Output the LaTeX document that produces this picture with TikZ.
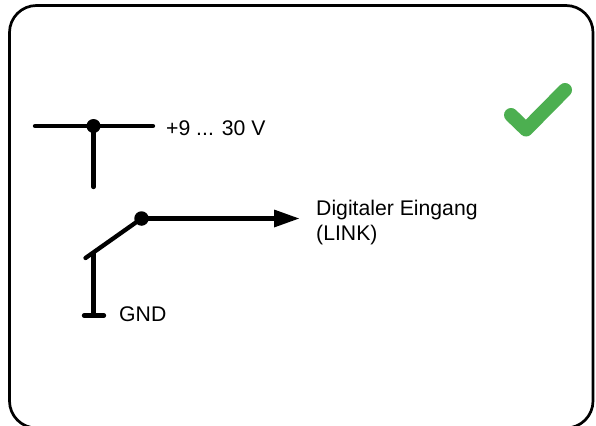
\documentclass[tikz,border=0pt]{standalone}
\usepackage{fontspec}
\setmainfont{Liberation Sans}
\definecolor{okgreen}{HTML}{4CAF50}
\tikzset{
  wire/.style={line width=4.3pt,line cap=round,black},
  dotnode/.style={circle,fill=black,inner sep=0pt,minimum size=#1},
  lbl/.style={inner sep=0pt,font=\fontsize{21.2}{24}\selectfont,align=left},
  tick/.style={line width=14pt,line cap=round,line join=round,okgreen}
}
\begin{document}
\begin{tikzpicture}[x=1pt,y=-1pt]
\useasboundingbox (0,0) rectangle (596,425);
\clip (0,0) rectangle (596,425);
\draw[line width=2.7pt,rounded corners=27pt] (9.5,5.5) rectangle (593,428);
% supply
\coordinate (tl) at (35,126);
\coordinate (tr) at (153,126);
\coordinate (tb) at (93.5,187);
\node[dotnode=14pt] (tj) at (93.5,126) {};
\draw[wire] (tl) -- (tr);
\draw[wire] (tj.center) -- (tb);
\node[lbl,anchor=base west] (vlabel) at (166,135) {+9 ... 30 V};
% switch
\node[dotnode=14.5pt] (sj) at (141.5,218.5) {};
\coordinate (sw) at (85.5,258);
\coordinate (swb) at (93.5,253);
\coordinate (gndc) at (93.5,315.5);
\coordinate (gl) at (84,315.5);
\coordinate (gr) at (104,315.5);
\coordinate (tip) at (299,218.5);
\coordinate (tipb) at (274,218.5);
\draw[wire] (sj.center) -- (sw);
\draw[wire] (swb) -- (gndc);
\draw[wire] (gl) -- (gr);
\draw[wire,line cap=butt] (sj.center) -- (tipb);
\fill (tip) -- (274,209.5) -- (274,227.5) -- cycle;
\node[lbl,anchor=base west] (inlabel) at (316,215.5) {Digitaler Eingang};
\node[lbl,anchor=base west] (inlabel2) at (316,240) {(LINK)};
\node[lbl,anchor=base west] (gndlabel) at (119,321) {GND};
% tick
\draw[tick] (511,115) -- (526,129.5) -- (565,90);
\end{tikzpicture}
\end{document}
